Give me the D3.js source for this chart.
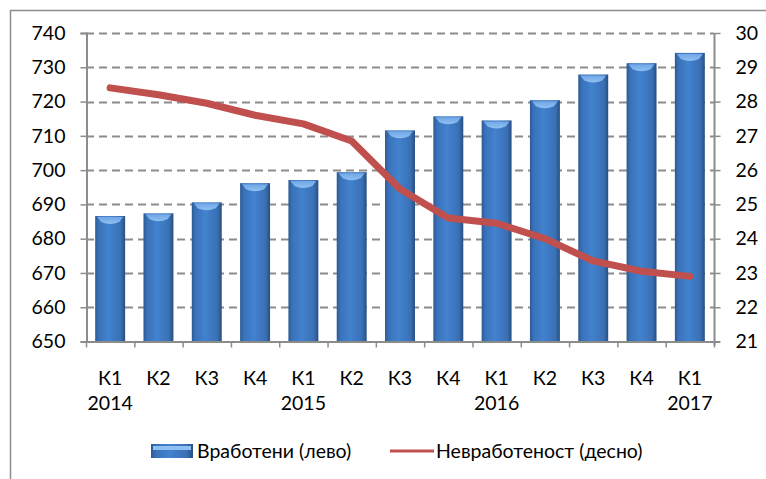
<!DOCTYPE html>
<html>
<head>
<meta charset="utf-8">
<script src="https://cdn.jsdelivr.net/npm/d3@7/dist/d3.min.js"></script>
<style>
  body { margin: 0; background: #fff; }
  text { font-family: Lato, "Open Sans", sans-serif; fill: #000; }
</style>
</head>
<body>
<script>
// quarters and years along the bottom
var quarters = ["К1", "К2", "К3", "К4", "К1", "К2", "К3", "К4", "К1", "К2", "К3", "К4", "К1"];
var years = ["2014", "", "", "", "2015", "", "", "", "2016", "", "", "", "2017"];

// employed, thousands (left axis)
var employed = [686.6, 687.4, 690.6, 696.2, 697.1, 699.4, 711.6, 715.7, 714.5, 720.4, 727.9, 731.2, 734.2];
// unemployment rate, % (right axis)
var unemployment = [28.4, 28.2, 27.95, 27.6, 27.35, 26.85, 25.45, 24.6, 24.45, 24.0, 23.35, 23.05, 22.9];

var leftTicks = [650, 660, 670, 680, 690, 700, 710, 720, 730, 740];
var rightTicks = [21, 22, 23, 24, 25, 26, 27, 28, 29, 30];

var seriesNames = ["Вработени (лево)", "Невработеност (десно)"];

var width = 766, height = 479;
var margin = {top: 33, right: 52, bottom: 137.5, left: 86};
var fontSize = 19.5;

var svg = d3.select("body").append("svg")
  .attr("width", width)
  .attr("height", height);

// chart frame (cropped at right and bottom)
svg.append("path")
  .attr("d", "M10.5," + height + "V10.5H" + width)
  .attr("fill", "none")
  .attr("stroke", "#8c8c8c")
  .attr("stroke-width", 1.5);

var defs = svg.append("defs");
var grad = defs.append("linearGradient").attr("id", "barGrad")
  .attr("x1", "0").attr("x2", "1").attr("y1", "0").attr("y2", "0");
grad.append("stop").attr("offset", "0%").attr("stop-color", "#2c5a94");
grad.append("stop").attr("offset", "12%").attr("stop-color", "#3a72b8");
grad.append("stop").attr("offset", "45%").attr("stop-color", "#4282cf");
grad.append("stop").attr("offset", "85%").attr("stop-color", "#3a70b4");
grad.append("stop").attr("offset", "100%").attr("stop-color", "#284f82");

var capGrad = defs.append("linearGradient").attr("id", "capGrad")
  .attr("x1", "0").attr("x2", "0").attr("y1", "0").attr("y2", "1");
capGrad.append("stop").attr("offset", "0%").attr("stop-color", "#6fa6e6");
capGrad.append("stop").attr("offset", "100%").attr("stop-color", "#8fc0f2");

var x0 = margin.left, x1 = width - margin.right;
var y0 = height - margin.bottom, y1 = margin.top;

var x = d3.scaleBand()
  .domain(d3.range(quarters.length))
  .range([x0, x1])
  .paddingInner(0.38)
  .paddingOuter(0.19);

var xOuter = d3.scaleBand()
  .domain(d3.range(quarters.length))
  .range([x0, x1]);

var yLeft = d3.scaleLinear().domain([650, 740]).range([y0, y1]);
var yRight = d3.scaleLinear().domain([21, 30]).range([y0, y1]);

// dashed grid lines
svg.append("g")
  .selectAll("line")
  .data(leftTicks.slice(1))
  .enter()
    .append("line")
      .attr("x1", x0)
      .attr("x2", x1)
      .attr("y1", function(d) { return Math.round(yLeft(d)) + 0.5; })
      .attr("y2", function(d) { return Math.round(yLeft(d)) + 0.5; })
      .attr("stroke", "#8c8c8c")
      .attr("stroke-width", 2)
      .attr("stroke-dasharray", "8,5");

// bars
var bars = svg.append("g").selectAll("g")
  .data(employed)
  .enter()
    .append("g");

bars.append("rect")
  .attr("x", function(d, i) { return x(i); })
  .attr("y", function(d) { return yLeft(d); })
  .attr("width", x.bandwidth())
  .attr("height", function(d) { return y0 - yLeft(d); })
  .attr("fill", "url(#barGrad)");

// light cap on top of every bar
bars.append("path")
  .attr("d", function(d, i) {
    var l = x(i) + 2, r = x(i) + x.bandwidth() - 2, t = yLeft(d) + 1;
    var m = (l + r) / 2;
    return "M" + l + "," + t + "H" + r + "L" + (r - 4) + "," + (t + 5)
      + "Q" + m + "," + (t + 9) + " " + (l + 4) + "," + (t + 5) + "Z";
  })
  .attr("fill", "url(#capGrad)");

// plot right border
svg.append("line")
  .attr("x1", x1 + 0.5).attr("x2", x1 + 0.5)
  .attr("y1", y1).attr("y2", y0 + 4)
  .attr("stroke", "#8c8c8c").attr("stroke-width", 2);

// left axis
var leftAxis = svg.append("g")
  .attr("transform", "translate(" + (x0 + 0.5) + ",0)")
  .call(d3.axisLeft(yLeft).tickValues(leftTicks).tickSize(6).tickPadding(15));
leftAxis.select(".domain").attr("stroke", "#8c8c8c").attr("stroke-width", 2);
leftAxis.selectAll(".tick line").attr("stroke", "#8c8c8c").attr("stroke-width", 1.5);

// right axis
var rightAxis = svg.append("g")
  .attr("transform", "translate(" + (x1 + 0.5) + ",0)")
  .call(d3.axisRight(yRight).tickValues(rightTicks).tickSize(6).tickPadding(15));
rightAxis.select(".domain").remove();
rightAxis.selectAll(".tick line").attr("stroke", "#8c8c8c").attr("stroke-width", 1.5);

svg.selectAll(".tick text")
  .attr("font-family", null)
  .attr("font-size", fontSize);

// bottom axis with ticks between categories
var bottom = svg.append("g");
bottom.append("line")
  .attr("x1", x0).attr("x2", x1 + 6)
  .attr("y1", y0 + 0.5).attr("y2", y0 + 0.5)
  .attr("stroke", "#8c8c8c").attr("stroke-width", 2);
bottom.selectAll(".sep")
  .data(d3.range(quarters.length + 1))
  .enter()
    .append("line")
      .attr("class", "sep")
      .attr("x1", function(d) { return d < quarters.length ? xOuter(d) + 0.5 : x1 + 0.5; })
      .attr("x2", function(d) { return d < quarters.length ? xOuter(d) + 0.5 : x1 + 0.5; })
      .attr("y1", y0).attr("y2", y0 + 6)
      .attr("stroke", "#8c8c8c").attr("stroke-width", 1.5);

bottom.selectAll(".q")
  .data(quarters)
  .enter()
    .append("text")
      .attr("class", "q")
      .attr("x", function(d, i) { return x(i) + x.bandwidth() / 2; })
      .attr("y", 385)
      .attr("text-anchor", "middle")
      .attr("font-size", fontSize)
      .text(function(d) { return d; });

bottom.selectAll(".yr")
  .data(years)
  .enter()
    .append("text")
      .attr("class", "yr")
      .attr("x", function(d, i) { return x(i) + x.bandwidth() / 2; })
      .attr("y", 410)
      .attr("text-anchor", "middle")
      .attr("font-size", fontSize)
      .text(function(d) { return d; });

// unemployment line
var line = d3.line()
  .x(function(d, i) { return x(i) + x.bandwidth() / 2; })
  .y(function(d) { return yRight(d); });

svg.append("path")
  .datum(unemployment)
  .attr("d", line)
  .attr("fill", "none")
  .attr("stroke", "#c0504d")
  .attr("stroke-width", 7)
  .attr("stroke-linejoin", "round")
  .attr("stroke-linecap", "round");

// legend
var legend = svg.append("g");
legend.append("rect")
  .attr("x", 151).attr("y", 444)
  .attr("width", 42).attr("height", 14)
  .attr("fill", "url(#barGrad)");
legend.append("rect")
  .attr("x", 153).attr("y", 446)
  .attr("width", 38).attr("height", 4)
  .attr("fill", "#8fc0f2");
legend.append("text")
  .attr("x", 197).attr("y", 458)
  .attr("font-size", fontSize)
  .text(seriesNames[0]);
legend.append("line")
  .attr("x1", 390).attr("x2", 434)
  .attr("y1", 451).attr("y2", 451)
  .attr("stroke", "#c0504d").attr("stroke-width", 3);
legend.append("text")
  .attr("x", 436).attr("y", 458)
  .attr("font-size", fontSize)
  .text(seriesNames[1]);
</script>
</body>
</html>
